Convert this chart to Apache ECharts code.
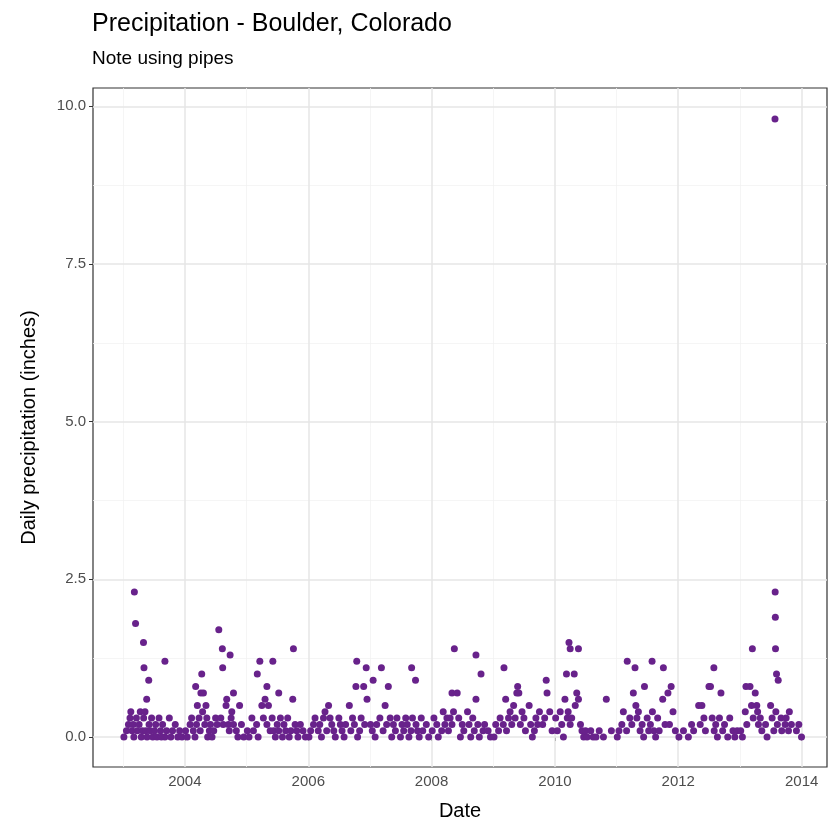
<!DOCTYPE html>
<html>
<head>
<meta charset="utf-8">
<script src="https://cdn.jsdelivr.net/npm/echarts@6/dist/echarts.min.js"></script>
<style>html,body{margin:0;padding:0;background:#fff}#chart{width:840px;height:840px}</style>
</head>
<body>
<div id="chart"></div>
<script>
// larger storms
const bigDates = ['2003-03-08','2003-03-15','2003-05-01','2003-05-04','2003-06-01','2003-05-20','2003-02-15','2003-09-05',
  '2004-07-20','2004-08-10','2004-09-25','2004-08-12','2004-04-10','2004-03-05','2004-10-15',
  '2005-03-20','2005-06-05','2005-03-05','2005-05-01','2005-07-10','2005-10-05','2005-10-01',
  '2006-10-15','2006-12-10','2007-03-10','2006-11-25','2006-10-10','2007-01-20','2007-04-20',
  '2007-09-05','2007-09-28','2008-05-15','2008-09-20','2008-10-20','2008-05-01','2009-03-05','2009-05-25','2009-11-10',
  '2010-03-25','2010-04-01','2010-05-20','2010-03-10','2010-04-25','2011-03-05','2011-04-20','2011-06-15',
  '2011-07-30','2011-10-05','2011-11-20','2012-07-30','2012-09-10','2013-03-15','2013-02-05',
  '2013-07-27','2013-07-28','2013-07-29','2013-07-30','2013-08-05','2013-08-15','2013-10-20'];
const bigValues = [2.3,1.8,1.5,1.1,0.9,0.6,0.4,1.2,
  1.7,1.4,1.3,1.1,1.0,0.8,0.7,
  1.2,1.2,1.0,0.8,0.7,1.4,0.6,
  1.2,1.1,1.1,0.8,0.8,0.9,0.8,
  1.1,0.9,1.4,1.3,1.0,0.7,1.1,0.8,0.9,
  1.5,1.4,1.4,1.0,1.0,1.2,1.1,0.8,
  1.2,1.1,0.8,1.1,0.7,1.4,0.8,
  9.8,2.3,1.9,1.4,1.0,0.9,0.4];

// everyday small amounts, "MMDD value" per year
const smallByYear = {
  2003: '0105 0 0120 0.1 0201 0.2 0210 0.3 0222 0.1 0301 0.2 0305 0 0320 0.3 0325 0.1 0405 0.2 0412 0.4 0418 0 0425 0.1 0502 0.3 0510 0.4 0515 0.1 0522 0 0603 0.2 0610 0.1 0618 0.3 0625 0 0705 0.1 0712 0.2 0720 0 0801 0.3 0810 0.1 0815 0 0822 0.2 0905 0 0915 0.1 1001 0.3 1010 0 1020 0.1 1105 0.2 1120 0 1201 0.1 1215 0',
  2004: '0105 0.1 0115 0 0201 0.2 0210 0.3 0220 0.1 0301 0 0310 0.2 0315 0.5 0325 0.3 0401 0.1 0405 0.7 0415 0.4 0420 0.7 0428 0.2 0505 0.5 0510 0.3 0515 0 0525 0.1 0601 0.2 0610 0 0620 0.1 0701 0.3 0710 0.2 0801 0.3 0815 0.2 0901 0.5 0905 0.6 0915 0.2 0920 0.1 1001 0.3 1005 0.4 1015 0.2 1101 0.1 1110 0 1120 0.5 1201 0.2 1215 0',
  2005: '0105 0.1 0115 0 0201 0.3 0210 0.1 0301 0.2 0310 0 0401 0.5 0410 0.3 0420 0.6 0501 0.2 0510 0.5 0520 0.1 0601 0.3 0610 0.1 0620 0 0701 0.2 0710 0.1 0720 0.3 0801 0 0810 0.2 0820 0.1 0901 0.3 0910 0 0920 0.1 1015 0.2 1025 0.1 1101 0 1115 0.2 1201 0.1 1215 0',
  2006: '0105 0 0115 0.1 0201 0.2 0210 0.3 0301 0.1 0310 0.2 0320 0 0401 0.3 0410 0.4 0420 0.1 0501 0.5 0510 0.3 0520 0.2 0601 0.1 0610 0 0701 0.3 0710 0.2 0720 0.1 0801 0 0810 0.2 0901 0.5 0910 0.1 0920 0.3 1001 0.2 1020 0 1101 0.1 1110 0.3 1201 0.2 1215 0.6',
  2007: '0105 0.2 0115 0.1 0201 0 0210 0.2 0301 0.3 0320 0.1 0401 0.5 0410 0.2 0501 0.3 0510 0 0520 0.2 0601 0.1 0610 0.3 0701 0 0710 0.2 0720 0.1 0801 0.3 0810 0.2 0820 0 0901 0.1 0910 0.3 1001 0.2 1010 0.1 1020 0 1101 0.3 1110 0.1 1201 0.2 1215 0',
  2008: '0105 0.1 0115 0.3 0201 0.2 0210 0 0301 0.1 0310 0.4 0320 0.2 0401 0.3 0410 0.1 0420 0.3 0501 0.2 0510 0.4 0601 0.7 0610 0.3 0620 0 0701 0.2 0710 0.1 0801 0.4 0810 0.2 0820 0 0901 0.3 0910 0.1 0920 0.6 1001 0.2 1010 0 1101 0.1 1110 0.2 1201 0.1 1215 0',
  2009: '0105 0 0115 0.2 0201 0.1 0210 0.3 0301 0.2 0315 0.6 0320 0.1 0401 0.3 0410 0.4 0420 0.2 0501 0.5 0510 0.3 0520 0.7 0601 0.7 0610 0.2 0620 0.4 0701 0.3 0710 0.1 0801 0.5 0810 0.2 0820 0 0901 0.1 0910 0.3 0920 0.2 1001 0.4 1020 0.2 1101 0.3 1115 0.7 1201 0.4 1215 0.1',
  2010: '0105 0.3 0115 0.1 0201 0.4 0210 0.2 0220 0 0301 0.6 0315 0.3 0320 0.4 0401 0.2 0410 0.3 0501 0.5 0510 0.7 0520 0.6 0601 0.2 0610 0.1 0620 0 0701 0.1 0710 0 0801 0.1 0815 0 0901 0 0920 0.1 1015 0 1101 0.6 1201 0.1',
  2011: '0105 0 0115 0.1 0201 0.2 0210 0.4 0301 0.1 0320 0.3 0401 0.2 0410 0.7 0425 0.5 0501 0.3 0510 0.4 0520 0.1 0601 0.2 0610 0 0701 0.3 0710 0.1 0720 0.2 0801 0.4 0810 0.1 0820 0 0901 0.3 0910 0.1 1001 0.6 1015 0.2 1101 0.7 1110 0.2 1201 0.4 1215 0.1',
  2012: '0105 0 0201 0.1 0301 0 0320 0.2 0401 0.1 0501 0.5 0510 0.2 0520 0.5 0601 0.3 0610 0.1 0701 0.8 0710 0.8 0720 0.3 0801 0.1 0810 0.2 0820 0 0901 0.3 0920 0.1 1001 0.2 1020 0 1101 0.3 1120 0.1 1201 0 1215 0.1',
  2013: '0105 0.1 0115 0 0201 0.4 0210 0.2 0301 0.8 0310 0.5 0320 0.3 0401 0.7 0410 0.5 0415 0.4 0420 0.2 0501 0.3 0510 0.1 0601 0.2 0610 0 0701 0.5 0710 0.3 0720 0.1 0801 0.4 0810 0.2 0901 0.3 0905 0.1 0925 0.2 1001 0.3 1015 0.1 1101 0.2 1201 0.1 1215 0.2 1231 0'
};

const yMajor = [0, 2.5, 5, 7.5, 10];
const yMinor = [1.25, 3.75, 6.25, 8.75];
const xMajor = ['2004', '2006', '2008', '2010', '2012', '2014'];
const xMinor = ['2003', '2005', '2007', '2009', '2011', '2013'];

const points = bigDates.map((d, i) => [d, bigValues[i]]);
Object.keys(smallByYear).forEach(y => {
  const t = smallByYear[y].split(' ');
  for (let i = 0; i < t.length; i += 2) {
    points.push([y + '-' + t[i].slice(0, 2) + '-' + t[i].slice(2), +t[i + 1]]);
  }
});

const chart = echarts.init(document.getElementById('chart'));
const ts = s => +new Date(s + '-01-01T00:00:00Z');
const line = (c, w) => ({ color: c, width: w, type: 'solid' });
const gridLines = [
  ...yMinor.map(v => ({ yAxis: v, lineStyle: line('#f2f2f2', 0.8) })),
  ...xMinor.map(v => ({ xAxis: ts(v), lineStyle: line('#f2f2f2', 0.8) })),
  ...yMajor.map(v => ({ yAxis: v, lineStyle: line('#e6e6e6', 1.5) })),
  ...xMajor.map(v => ({ xAxis: ts(v), lineStyle: line('#e6e6e6', 1.5) }))
];
const lbl = { color: '#4d4d4d', fontSize: 15, fontFamily: 'Liberation Sans, Arial' };

chart.setOption({
  animation: false,
  textStyle: { fontFamily: 'Liberation Sans, Arial' },
  title: {
    text: 'Precipitation - Boulder, Colorado', subtext: 'Note using pipes',
    left: 87, top: 7, itemGap: 12,
    textStyle: { fontSize: 25, fontWeight: 'normal', color: '#000' },
    subtextStyle: { fontSize: 19, color: '#000' }
  },
  grid: { left: 93, right: 13, top: 88, bottom: 73, show: true, borderColor: '#333', borderWidth: 1.2 },
  xAxis: {
    type: 'value', min: ts('2002') + 186 * 86400000, max: ts('2014') + 150 * 86400000,
    name: 'Date', nameLocation: 'middle', nameGap: 34, nameTextStyle: { fontSize: 20, color: '#000' },
    axisLine: { show: false }, splitLine: { show: false },
    axisTick: { show: true, customValues: xMajor.map(ts), length: 4, lineStyle: { color: '#333' } },
    axisLabel: { customValues: xMajor.map(ts), formatter: v => new Date(v).getUTCFullYear(), ...lbl, margin: 7 }
  },
  yAxis: {
    type: 'value', min: -0.475, max: 10.29,
    name: 'Daily precipitation (inches)', nameLocation: 'middle', nameGap: 54, nameTextStyle: { fontSize: 20, color: '#000' },
    axisLine: { show: false }, splitLine: { show: false },
    axisTick: { show: true, customValues: yMajor, length: 4, lineStyle: { color: '#333' } },
    axisLabel: { customValues: yMajor, formatter: v => v.toFixed(1), ...lbl, margin: 7 }
  },
  series: [{
    type: 'scatter', data: [], z: 1,
    markLine: { silent: true, symbol: 'none', label: { show: false }, data: gridLines, z: 1 }
  }, {
    type: 'scatter', symbolSize: 7, itemStyle: { color: '#68228B', opacity: 1 },
    data: points.map(p => [+new Date(p[0] + 'T00:00:00Z'), p[1]]),
    z: 5
  }]
});
</script>
</body>
</html>
